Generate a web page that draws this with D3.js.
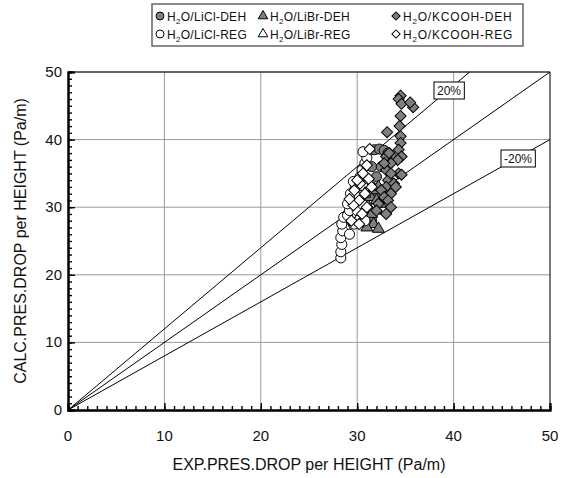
<!DOCTYPE html>
<html>
<head>
<meta charset="utf-8">
<script src="https://cdn.jsdelivr.net/npm/d3@7"></script>
<style>
  body { margin: 0; background: #fff; }
  svg text { font-family: "Liberation Sans", Arial, sans-serif; fill: #111; }
</style>
</head>
<body>
<div id="chart"></div>
<script>
// data, [exp, calc] in Pa/m
const liclDeh = [[31.8,38.5],[32.3,38.6],[32.8,38.4],[33.2,38.0],[31.5,36.0],[32.0,34.5],[31.5,33.0],[31.0,31.5],
  [30.8,30.0],[31.2,29.0],[31.5,28.0],[30.5,28.5],[31.0,27.5],[32.5,36.0],[33.5,37.5],[32.0,32.0]];
const librDeh = [[30.6,29.5],[31.0,30.5],[31.4,31.5],[31.8,32.5],[32.2,33.0],[31.2,28.5],[31.7,27.5],[32.2,26.8],
  [31.0,27.0],[32.0,29.5],[32.4,30.5],[30.8,32.0],[31.5,29.0],[32.0,31.0],[30.5,28.0]];
const kcoohDeh = [[34.5,46.5],[34.3,46.0],[34.6,45.3],[35.8,44.8],[35.5,45.5],[34.5,43.5],[34.4,42.0],[33.1,41.1],
  [34.5,40.5],[34.5,39.5],[34.3,38.5],[34.6,37.5],[34.2,37.0],[33.5,36.5],[33.0,35.5],[34.3,35.0],[34.6,34.8],
  [33.2,34.0],[33.8,33.5],[33.0,33.0],[32.5,32.5],[33.5,32.0],[32.8,31.5],[33.2,31.0],[32.2,30.5],[33.5,30.0],
  [32.0,29.5],[33.0,29.0],[34.0,33.0],[33.5,35.0],[33.0,37.5],[33.3,38.0],[32.8,36.5]];
const liclReg = [[28.3,22.5],[28.3,23.4],[28.4,24.5],[28.3,25.5],[28.5,26.5],[28.4,27.5],[28.6,28.5],[29.0,28.8],
  [29.2,29.5],[29.0,30.5],[29.5,31.0],[29.3,32.0],[29.8,33.0],[29.6,33.8],[30.3,34.5],[30.5,35.5],[30.8,36.5],
  [31.0,37.3],[30.6,38.2],[30.0,29.5],[30.2,31.5],[29.7,27.5],[30.5,30.5],[29.2,26.0],[30.8,28.0]];
const libreReg = [[29.0,28.0],[29.5,29.0],[30.0,30.0],[30.3,31.0],[29.2,29.8],[30.5,32.5],[29.8,31.8],[30.8,33.0],
  [28.8,27.0],[30.2,28.5]];
const kcoohReg = [[31.3,38.6],[31.0,36.2],[30.6,35.0],[31.2,34.2],[30.3,33.5],[29.7,32.5],[30.8,32.0],[30.2,31.0],
  [29.6,30.3],[31.0,30.0],[30.5,29.0],[29.4,28.0],[30.2,27.5],[31.5,33.0],[30.0,34.0],[29.2,31.2]];

const seriesNames = ["LiCl-DEH", "LiBr-DEH", "KCOOH-DEH", "LiCl-REG", "LiBr-REG", "KCOOH-REG"];
const refRatios = [1.2, 1.0, 0.8];
const refLabels = ["20%", "-20%"];
const majorTicks = [0, 10, 20, 30, 40, 50];

const width = 573, height = 478;
const margin = {top: 72, right: 23, bottom: 68, left: 68};

const svg = d3.select("#chart").append("svg")
  .attr("width", width)
  .attr("height", height);

const x = d3.scaleLinear().domain([0, 50]).range([margin.left, width - margin.right]);
const y = d3.scaleLinear().domain([0, 50]).range([height - margin.bottom, margin.top]);

// grid
const grid = svg.append("g");
majorTicks.slice(1, -1).forEach(v => {
  grid.append("line").attr("x1", x(v)).attr("x2", x(v)).attr("y1", y(0)).attr("y2", y(50))
    .attr("stroke", "#9a9a9a").attr("stroke-width", 1);
  grid.append("line").attr("x1", x(0)).attr("x2", x(50)).attr("y1", y(v)).attr("y2", y(v))
    .attr("stroke", "#9a9a9a").attr("stroke-width", 1);
});

// top and right frame
svg.append("line").attr("x1", x(0)).attr("x2", x(50)).attr("y1", y(50)).attr("y2", y(50))
  .attr("stroke", "#333").attr("stroke-width", 1.3);
svg.append("line").attr("x1", x(50)).attr("x2", x(50)).attr("y1", y(0)).attr("y2", y(50))
  .attr("stroke", "#333").attr("stroke-width", 1.3);

// reference lines through origin
refRatios.forEach(r => {
  const xe = Math.min(50, 50 / r);
  svg.append("line")
    .attr("x1", x(0)).attr("y1", y(0))
    .attr("x2", x(xe)).attr("y2", y(xe * r))
    .attr("stroke", "#000").attr("stroke-width", 1);
});

// axes with inward minor ticks
const minor = d3.range(0, 51);
svg.append("g").attr("transform", `translate(0,${y(0)})`)
  .call(d3.axisBottom(x).tickValues(minor).tickSize(-4).tickFormat(""));
svg.append("g").attr("transform", `translate(${x(0)},0)`)
  .call(d3.axisLeft(y).tickValues(minor).tickSize(-4).tickFormat(""));
svg.append("g").attr("transform", `translate(0,${y(0)})`)
  .call(d3.axisBottom(x).tickValues(majorTicks).tickSize(-7).tickFormat(""));
svg.append("g").attr("transform", `translate(${x(0)},0)`)
  .call(d3.axisLeft(y).tickValues(majorTicks).tickSize(-7).tickFormat(""));
svg.selectAll(".domain").attr("stroke", "#000").attr("stroke-width", 2);
svg.selectAll(".tick line").attr("stroke", "#000").attr("stroke-width", 1.4);

// tick labels
svg.append("g").selectAll("text").data(majorTicks).join("text")
  .attr("x", d => x(d)).attr("y", y(0) + 31)
  .attr("text-anchor", "middle").attr("font-size", 15).text(d => d);
svg.append("g").selectAll("text").data(majorTicks).join("text")
  .attr("x", x(0) - 6).attr("y", d => y(d) + 5)
  .attr("text-anchor", "end").attr("font-size", 15).text(d => d);

// axis titles
svg.append("text").attr("x", (x(0) + x(50)) / 2).attr("y", 470)
  .attr("text-anchor", "middle").attr("font-size", 16)
  .text("EXP.PRES.DROP per HEIGHT (Pa/m)");
svg.append("text").attr("transform", `translate(26,${(y(0) + y(50)) / 2}) rotate(-90)`)
  .attr("text-anchor", "middle").attr("font-size", 16)
  .text("CALC.PRES.DROP per HEIGHT (Pa/m)");

// percent labels
function boxLabel(cx, cy, txt) {
  const g = svg.append("g");
  const t = g.append("text").attr("x", cx).attr("y", cy + 4.5)
    .attr("text-anchor", "middle").attr("font-size", 12).text(txt);
  const bb = t.node().getBBox();
  g.insert("rect", "text")
    .attr("x", bb.x - 3).attr("y", cy - 8).attr("width", bb.width + 6).attr("height", 17)
    .attr("fill", "#fff").attr("stroke", "#000").attr("stroke-width", 1);
}
boxLabel(449, 90, refLabels[0]);
boxLabel(518, 158, refLabels[1]);

// markers
const shapes = {
  circle: d3.symbol().type(d3.symbolCircle).size(80),
  triangle: d3.symbol().type(d3.symbolTriangle).size(62),
  diamond: d3.symbol().type(d3.symbolSquare).size(62)
};
const seriesDefs = [
  {data: liclDeh, shape: "circle", fill: "#7f7f7f"},
  {data: libreReg, shape: "triangle", fill: "#fff"},
  {data: librDeh, shape: "triangle", fill: "#7f7f7f"},
  {data: kcoohDeh, shape: "diamond", fill: "#7f7f7f"},
  {data: liclReg, shape: "circle", fill: "#fff"},
  {data: kcoohReg, shape: "diamond", fill: "#fff"}
];
seriesDefs.forEach(s => {
  svg.append("g").selectAll("path").data(s.data).join("path")
    .attr("d", shapes[s.shape])
    .attr("transform", d => `translate(${x(d[0])},${y(d[1])})` + (s.shape === "diamond" ? " rotate(45)" : ""))
    .attr("fill", s.fill).attr("stroke", "#000").attr("stroke-width", 1);
});

// legend
const legend = svg.append("g");
legend.append("rect").attr("x", 152).attr("y", 4).attr("width", 371).attr("height", 42)
  .attr("fill", "#fff").attr("stroke", "#666").attr("stroke-width", 1.5);
const legendItems = [
  {name: seriesNames[0], shape: "circle", fill: "#7f7f7f"},
  {name: seriesNames[1], shape: "triangle", fill: "#7f7f7f"},
  {name: seriesNames[2], shape: "diamond", fill: "#7f7f7f"},
  {name: seriesNames[3], shape: "circle", fill: "#fff"},
  {name: seriesNames[4], shape: "triangle", fill: "#fff"},
  {name: seriesNames[5], shape: "diamond", fill: "#fff"}
];
const legShapes = {
  circle: d3.symbol().type(d3.symbolCircle).size(50),
  triangle: d3.symbol().type(d3.symbolTriangle).size(40),
  diamond: d3.symbol().type(d3.symbolSquare).size(34)
};
const colX = [160, 263, 396];
legendItems.forEach((it, i) => {
  const cx = colX[i % 3], cy = i < 3 ? 16 : 34;
  legend.append("path").attr("d", legShapes[it.shape])
    .attr("transform", `translate(${cx},${cy})` + (it.shape === "diamond" ? " rotate(45)" : ""))
    .attr("fill", it.fill).attr("stroke", "#000").attr("stroke-width", 1);
  const t = legend.append("text").attr("x", cx + 7).attr("y", cy + 4.5)
    .attr("font-size", 12).attr("letter-spacing", i % 3 === 2 ? 0.8 : 0.3);
  t.append("tspan").text("H");
  t.append("tspan").attr("font-size", 8).attr("dy", 3).text("2");
  t.append("tspan").attr("dy", -3).text("O/" + it.name);
});
</script>
</body>
</html>
